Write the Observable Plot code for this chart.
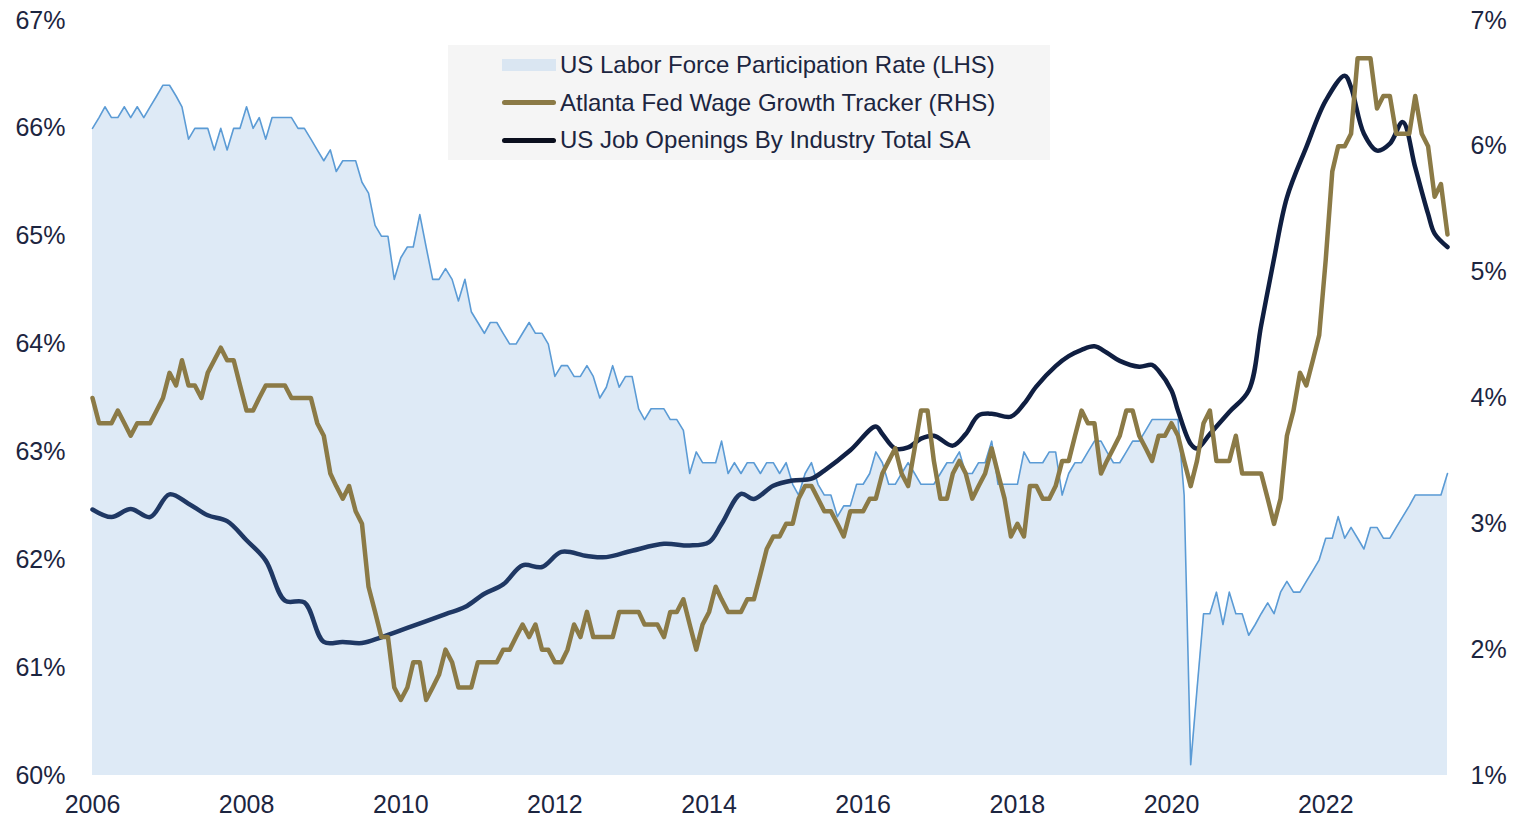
<!DOCTYPE html>
<html>
<head>
<meta charset="utf-8">
<script src="https://cdn.jsdelivr.net/npm/d3@7"></script>
<script src="https://cdn.jsdelivr.net/npm/@observablehq/plot@0.6"></script>
<style>
  body { margin: 0; background: #fff; font-family: Arial, "Liberation Sans", sans-serif; }
  #chart { position: relative; width: 1519px; height: 820px; overflow: hidden; }
  #chart svg { position: absolute; left: 0; top: 0; }
  #legend { position: absolute; left: 448px; top: 45px; width: 602px; height: 115px; background: #f5f5f5; color: #1c2540; font-size: 24px; }
  .item { position: absolute; left: 0; height: 30px; width: 602px; }
  .item .sw { position: absolute; left: 54px; width: 54px; }
  .item .lab { position: absolute; left: 112px; top: 0; line-height: 30px; white-space: nowrap; }
</style>
</head>
<body>
<div id="chart">
  <div id="legend"></div>
</div>
<script>
// ---------- data ----------
const firstMonth = "2006-01"; // monthly series start (Jan 2006 .. Aug 2023)

// US Labor Force Participation Rate, % (LHS)
const lfpr = [
  66.0, 66.1, 66.2, 66.1, 66.1, 66.2, 66.1, 66.2, 66.1, 66.2, 66.3, 66.4,
  66.4, 66.3, 66.2, 65.9, 66.0, 66.0, 66.0, 65.8, 66.0, 65.8, 66.0, 66.0,
  66.2, 66.0, 66.1, 65.9, 66.1, 66.1, 66.1, 66.1, 66.0, 66.0, 65.9, 65.8,
  65.7, 65.8, 65.6, 65.7, 65.7, 65.7, 65.5, 65.4, 65.1, 65.0, 65.0, 64.6,
  64.8, 64.9, 64.9, 65.2, 64.9, 64.6, 64.6, 64.7, 64.6, 64.4, 64.6, 64.3,
  64.2, 64.1, 64.2, 64.2, 64.1, 64.0, 64.0, 64.1, 64.2, 64.1, 64.1, 64.0,
  63.7, 63.8, 63.8, 63.7, 63.7, 63.8, 63.7, 63.5, 63.6, 63.8, 63.6, 63.7,
  63.7, 63.4, 63.3, 63.4, 63.4, 63.4, 63.3, 63.3, 63.2, 62.8, 63.0, 62.9,
  62.9, 62.9, 63.1, 62.8, 62.9, 62.8, 62.9, 62.9, 62.8, 62.9, 62.9, 62.8,
  62.9, 62.7, 62.6, 62.8, 62.9, 62.7, 62.6, 62.6, 62.4, 62.5, 62.5, 62.7,
  62.7, 62.8, 63.0, 62.9, 62.7, 62.7, 62.8, 62.9, 62.8, 62.7, 62.7, 62.7,
  62.8, 62.9, 62.9, 63.0, 62.8, 62.8, 62.9, 62.9, 63.1, 62.7, 62.7, 62.7,
  62.7, 63.0, 62.9, 62.9, 62.9, 63.0, 63.0, 62.6, 62.8, 62.9, 62.9, 63.0,
  63.1, 63.1, 63.0, 62.9, 62.9, 63.0, 63.1, 63.1, 63.2, 63.3, 63.3, 63.3,
  63.3, 63.3, 62.6, 60.1, 60.8, 61.5, 61.5, 61.7, 61.4, 61.7, 61.5, 61.5,
  61.3, 61.4, 61.5, 61.6, 61.5, 61.7, 61.8, 61.7, 61.7, 61.8, 61.9, 62.0,
  62.2, 62.2, 62.4, 62.2, 62.3, 62.2, 62.1, 62.3, 62.3, 62.2, 62.2, 62.3,
  62.4, 62.5, 62.6, 62.6, 62.6, 62.6, 62.6, 62.8
];

// Atlanta Fed Wage Growth Tracker, % (RHS)
const wageGrowth = [
  4.0, 3.8, 3.8, 3.8, 3.9, 3.8, 3.7, 3.8, 3.8, 3.8, 3.9, 4.0,
  4.2, 4.1, 4.3, 4.1, 4.1, 4.0, 4.2, 4.3, 4.4, 4.3, 4.3, 4.1,
  3.9, 3.9, 4.0, 4.1, 4.1, 4.1, 4.1, 4.0, 4.0, 4.0, 4.0, 3.8,
  3.7, 3.4, 3.3, 3.2, 3.3, 3.1, 3.0, 2.5, 2.3, 2.1, 2.1, 1.7,
  1.6, 1.7, 1.9, 1.9, 1.6, 1.7, 1.8, 2.0, 1.9, 1.7, 1.7, 1.7,
  1.9, 1.9, 1.9, 1.9, 2.0, 2.0, 2.1, 2.2, 2.1, 2.2, 2.0, 2.0,
  1.9, 1.9, 2.0, 2.2, 2.1, 2.3, 2.1, 2.1, 2.1, 2.1, 2.3, 2.3,
  2.3, 2.3, 2.2, 2.2, 2.2, 2.1, 2.3, 2.3, 2.4, 2.2, 2.0, 2.2,
  2.3, 2.5, 2.4, 2.3, 2.3, 2.3, 2.4, 2.4, 2.6, 2.8, 2.9, 2.9,
  3.0, 3.0, 3.2, 3.3, 3.3, 3.2, 3.1, 3.1, 3.0, 2.9, 3.1, 3.1,
  3.1, 3.2, 3.2, 3.4, 3.5, 3.6, 3.4, 3.3, 3.6, 3.9, 3.9, 3.5,
  3.2, 3.2, 3.4, 3.5, 3.4, 3.2, 3.3, 3.4, 3.6, 3.4, 3.2, 2.9,
  3.0, 2.9, 3.3, 3.3, 3.2, 3.2, 3.3, 3.5, 3.5, 3.7, 3.9, 3.8,
  3.8, 3.4, 3.5, 3.6, 3.7, 3.9, 3.9, 3.7, 3.6, 3.5, 3.7, 3.7,
  3.8, 3.7, 3.5, 3.3, 3.5, 3.8, 3.9, 3.5, 3.5, 3.5, 3.7, 3.4,
  3.4, 3.4, 3.4, 3.2, 3.0, 3.2, 3.7, 3.9, 4.2, 4.1, 4.3, 4.5,
  5.1, 5.8, 6.0, 6.0, 6.1, 6.7, 6.7, 6.7, 6.3, 6.4, 6.4, 6.1,
  6.1, 6.1, 6.4, 6.1, 6.0, 5.6, 5.7, 5.3
];

// US Job Openings By Industry Total SA (thousands, smoothed, hidden axis)
const joltsMonths = [
  "2006-01","2006-04","2006-07","2006-10","2007-01","2007-04","2007-07","2007-10",
  "2008-01","2008-04","2008-07","2008-10","2009-01","2009-04","2009-07","2009-10",
  "2010-02","2010-08","2010-11","2011-02","2011-05","2011-08","2011-11","2012-02",
  "2012-06","2012-09","2013-01","2013-06","2013-10","2014-01","2014-03","2014-06",
  "2014-08","2014-11","2015-02","2015-05","2015-07","2015-11","2016-03","2016-04",
  "2016-06","2016-08","2016-10","2016-12","2017-03","2017-05","2017-07","2017-09",
  "2017-12","2018-02","2018-04","2018-07","2018-09","2018-11","2019-01","2019-03",
  "2019-05","2019-08","2019-10","2019-11","2020-01","2020-02","2020-04","2020-05",
  "2020-07","2020-10","2021-01","2021-03","2021-05","2021-07","2021-10","2022-01",
  "2022-04","2022-05","2022-07","2022-09","2022-11","2023-01","2023-03","2023-05",
  "2023-06","2023-08"
];
const joltsOpenings = [
  4580, 4450, 4590, 4450, 4840, 4680, 4480, 4380,
  4050, 3700, 3010, 2980, 2300, 2300, 2280, 2380,
  2540, 2780, 2900, 3130, 3290, 3620, 3590, 3850,
  3780, 3760, 3870, 3990, 3960, 4020, 4330, 4850,
  4760, 4990, 5080, 5110, 5250, 5600, 6010, 5880,
  5630, 5650, 5800, 5850, 5680, 5880, 6200, 6230,
  6180, 6400, 6700, 7050, 7220, 7330, 7390, 7280,
  7140, 7040, 7070, 6970, 6630, 6280, 5710, 5630,
  5880, 6260, 6630, 7750, 8900, 9950, 10820, 11620,
  12050, 11850, 11050, 10760, 10880, 11250, 10470, 9670,
  9330, 9100
];

const leftTicks = [60, 61, 62, 63, 64, 65, 66, 67];
const rightTicks = [1, 2, 3, 4, 5, 6, 7];
const yearTicks = [2006, 2008, 2010, 2012, 2014, 2016, 2018, 2020, 2022];

const legendItems = [
  {label: "US Labor Force Participation Rate (LHS)", kind: "area", color: "#dae6f2"},
  {label: "Atlanta Fed Wage Growth Tracker (RHS)", kind: "line", color: "#8b7a46"},
  {label: "US Job Openings By Industry Total SA", kind: "line", color: "#0b0f1e"}
];

// ---------- build ----------
const parse = d3.utcParse("%Y-%m");
const start = parse(firstMonth);
const monthly = lfpr.map((v, i) => ({
  date: d3.utcMonth.offset(start, i),
  lfpr: v,
  wage: wageGrowth[i]
}));
const jobs = joltsMonths.map((m, i) => ({date: parse(m), v: joltsOpenings[i]}));
const xDomain = [monthly[0].date, monthly[monthly.length - 1].date];
const xTicks = yearTicks.map(y => new Date(Date.UTC(y, 0, 1)));

const W = 1519, H = 820;
const margins = {marginLeft: 92, marginRight: 72, marginTop: 20, marginBottom: 45};
const font = "Arial, 'Liberation Sans', sans-serif";
const baseStyle = {background: "transparent", fontSize: "25px", fontFamily: font, color: "#1c2540", overflow: "visible"};

const chart = document.getElementById("chart");
const legend = document.getElementById("legend");

// Layer 1: participation rate area + left axis + x axis
const p1 = Plot.plot({
  width: W, height: H, ...margins, style: baseStyle,
  x: {type: "utc", domain: xDomain, ticks: xTicks, tickFormat: d3.utcFormat("%Y"), tickSize: 0, tickPadding: 20, label: null},
  y: {domain: [60, 67], ticks: leftTicks, tickFormat: d => d + "%", tickSize: 0, tickPadding: 27, label: null},
  marks: [
    Plot.areaY(monthly, {x: "date", y1: 60, y2: "lfpr", fill: "#deeaf6"}),
    Plot.line(monthly, {x: "date", y: "lfpr", stroke: "#5b9bd5", strokeWidth: 1.6, strokeLinejoin: "round"})
  ]
});

// Layer 2: job openings (hidden axis)
const p3 = Plot.plot({
  width: W, height: H, ...margins, style: baseStyle,
  x: {type: "utc", domain: xDomain, axis: null},
  y: {domain: [0, 13000], axis: null},
  marks: [
    Plot.line(jobs, {x: "date", y: "v", stroke: "url(#joGrad)", strokeWidth: 4.5, curve: "catmull-rom", strokeLinecap: "round", strokeLinejoin: "round"})
  ]
});
const xs = p3.scale("x");
const gx1 = xs.apply(xDomain[0]), gx2 = xs.apply(xDomain[1]);
const ns = "http://www.w3.org/2000/svg";
const defs = document.createElementNS(ns, "defs");
defs.innerHTML = `<linearGradient id="joGrad" gradientUnits="userSpaceOnUse" x1="${gx1}" y1="0" x2="${gx2}" y2="0">
  <stop offset="0" stop-color="#1f3864"/><stop offset="0.49" stop-color="#1f3864"/>
  <stop offset="0.56" stop-color="#101f42"/><stop offset="1" stop-color="#0f1e40"/></linearGradient>`;
p3.prepend(defs);

// Layer 3: wage growth + right axis
const p2 = Plot.plot({
  width: W, height: H, ...margins, style: baseStyle,
  x: {type: "utc", domain: xDomain, axis: null},
  y: {domain: [1, 7], ticks: rightTicks, tickFormat: d => d + "%", axis: "right", tickSize: 0, tickPadding: 23, label: null},
  marks: [
    Plot.line(monthly, {x: "date", y: "wage", stroke: "#8b7a46", strokeWidth: 4.5, strokeLinejoin: "round", strokeLinecap: "round"})
  ]
});

chart.insertBefore(p1, legend);
chart.insertBefore(p3, legend);
chart.insertBefore(p2, legend);

// Legend
legendItems.forEach((it, i) => {
  const row = document.createElement("div");
  row.className = "item";
  row.style.top = (5 + i * 37.5) + "px";
  const sw = document.createElement("div");
  sw.className = "sw";
  if (it.kind === "area") {
    sw.style.top = "9px"; sw.style.height = "12px"; sw.style.background = it.color;
  } else {
    sw.style.top = "12.5px"; sw.style.height = "5px"; sw.style.borderRadius = "3px"; sw.style.background = it.color;
  }
  const lab = document.createElement("div");
  lab.className = "lab";
  lab.textContent = it.label;
  row.appendChild(sw); row.appendChild(lab);
  legend.appendChild(row);
});
</script>
</body>
</html>
